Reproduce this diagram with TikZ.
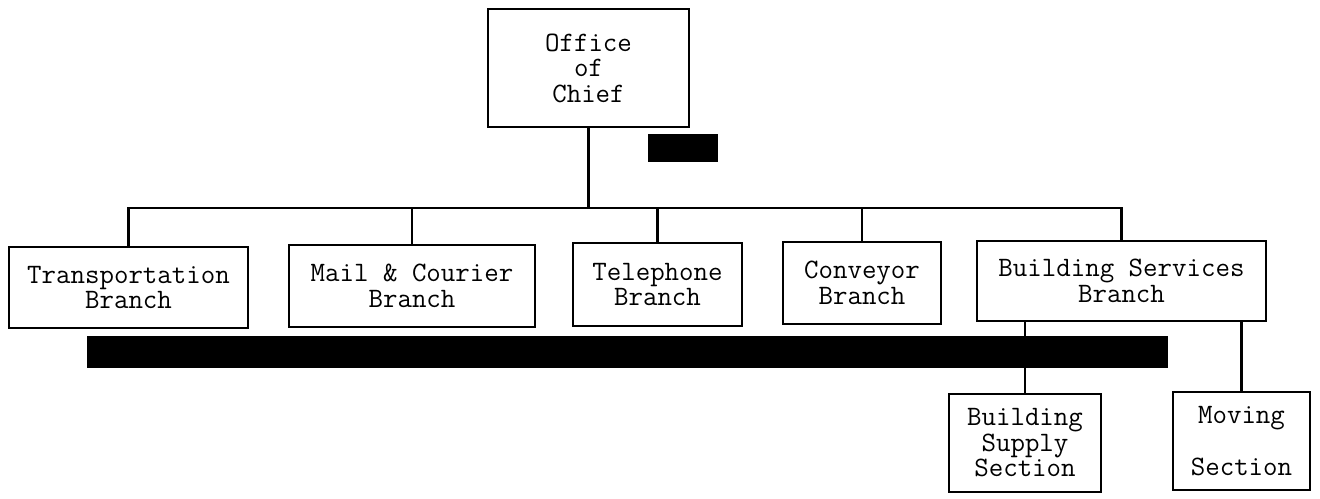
\documentclass[tikz,border=0pt]{standalone}
\usetikzlibrary{positioning}

\begin{document}
\begin{tikzpicture}[x=0.02cm, y=-0.02cm,
    unit/.style={rectangle, draw, line width=1.2pt, align=center, inner sep=2pt, font=\ttfamily\fontsize{16}{14.5}\selectfont},
    redact/.style={rectangle, fill=black, inner sep=0pt},
    link/.style={line width=1.2pt}]

\useasboundingbox (0,0) rectangle (1320,498);

% Chief at the top
\node[unit, minimum width=201*0.02cm, minimum height=118*0.02cm] (chief) at (588.5,68) {Office\\of\\Chief};

% Branches
\node[unit, minimum width=239*0.02cm, minimum height=81*0.02cm] (transport) at (128.5,287.5) {Transportation\\Branch};
\node[unit, minimum width=246*0.02cm, minimum height=82*0.02cm] (mail) at (412,286) {Mail \& Courier\\Branch};
\node[unit, minimum width=169*0.02cm, minimum height=83*0.02cm] (phone) at (657.5,284.5) {Telephone\\Branch};
\node[unit, minimum width=158*0.02cm, minimum height=82*0.02cm] (conveyor) at (862,283) {Conveyor\\Branch};
\node[unit, minimum width=289*0.02cm, minimum height=80*0.02cm] (building) at (1121.5,281) {Building Services\\Branch};

% Sections under building services
\node[unit, minimum width=152*0.02cm, minimum height=98*0.02cm] (supply) at (1025,443) {Building\\Supply\\Section};
\node[unit, minimum width=137*0.02cm, minimum height=98*0.02cm] (moving) at (1241.5,441) {Moving\\[15pt]Section};

\coordinate (bus) at (0,208);

% Connections
\draw[link] (chief.south) -- (chief.south |- bus);
\draw[link] (transport.north) |- (bus -| building.north) -- (building.north);
\draw[link] (mail.north) -- (mail.north |- bus);
\draw[link] (phone.north) -- (phone.north |- bus);
\draw[link] (conveyor.north) -- (conveyor.north |- bus);
\draw[link] (supply.north) -- (supply.north |- building.south);
\draw[link] (moving.north) -- (moving.north |- building.south);

% Blacked out parts
\node[redact, minimum width=70*0.02cm, minimum height=28*0.02cm] (mask1) at (683,148) {};
\node[redact, minimum width=1081*0.02cm, minimum height=32*0.02cm] (mask2) at (627.5,352) {};

\end{tikzpicture}
\end{document}
